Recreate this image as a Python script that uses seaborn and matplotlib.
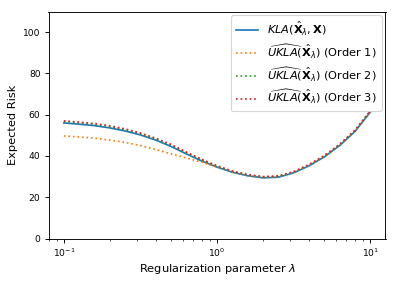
import matplotlib
matplotlib.use("Agg")
import matplotlib.pyplot as plt
import seaborn as sns
import pandas as pd
import numpy as np

lam = [0.1, 0.1259, 0.1585, 0.1995, 0.2512, 0.3162, 0.3981, 0.5012, 0.631, 0.7943,
       1.0, 1.259, 1.585, 1.995, 2.512, 3.162, 3.981, 5.012, 6.31, 7.943, 10.0]
kla = [56.0, 55.4, 54.7, 53.6, 52.1, 50.2, 47.7, 44.6, 41.0, 37.6,
       34.6, 32.1, 30.4, 29.4, 29.7, 31.8, 35.2, 39.5, 45.0, 51.8, 61.2]
ukla1 = [49.7, 49.2, 48.6, 47.7, 46.6, 45.0, 43.1, 41.0, 39.0, 37.0,
         34.6, 32.3, 30.6, 29.7, 30.0, 32.1, 35.5, 39.8, 45.3, 52.1, 61.5]
ukla2 = [56.7, 56.1, 55.4, 54.3, 52.8, 50.8, 48.3, 45.3, 41.6, 38.1,
         35.0, 32.5, 30.8, 29.8, 30.1, 32.2, 35.6, 39.9, 45.4, 52.2, 61.6]
ukla3 = [57.0, 56.4, 55.7, 54.6, 53.1, 51.1, 48.6, 45.6, 41.9, 38.4,
         35.3, 32.7, 31.0, 30.0, 30.3, 32.4, 35.8, 40.2, 45.6, 52.4, 61.8]

labels = [r'$KLA(\hat{\mathbf{X}}_\lambda, \mathbf{X})$',
          r'$\widehat{UKLA}(\hat{\mathbf{X}}_\lambda)$ (Order 1)',
          r'$\widehat{UKLA}(\hat{\mathbf{X}}_\lambda)$ (Order 2)',
          r'$\widehat{UKLA}(\hat{\mathbf{X}}_\lambda)$ (Order 3)']
colors = ['#1f77b4', '#ff7f0e', '#2ca02c', '#d62728']
styles = ['-', ':', ':', ':']

DPI = 82
W, H = 398, 282
fig = plt.figure(figsize=(W / DPI, H / DPI), dpi=DPI)
left, right, top, bottom = 48.5, 385.5, 11.5, 238.5
ax = fig.add_axes([left / W, 1 - bottom / H, (right - left) / W, (bottom - top) / H])

for vals, lab, c, ls in zip([kla, ukla1, ukla2, ukla3], labels, colors, styles):
    df = pd.DataFrame({'lam': lam, 'risk': vals})
    sns.lineplot(data=df, x='lam', y='risk', ax=ax, color=c, linestyle=ls,
                 linewidth=1.5, label=lab)

ax.set_xscale('log')
ax.set_ylim(0, 110)
ax.set_xlabel(r'Regularization parameter $\lambda$', fontsize=10, labelpad=3)
ax.set_ylabel('Expected Risk', fontsize=10)
ax.tick_params(labelsize=8)
ax.legend(loc='upper right', fontsize=10, labelspacing=0.4, borderaxespad=0.35)

fig.savefig('out.png', dpi=DPI)
